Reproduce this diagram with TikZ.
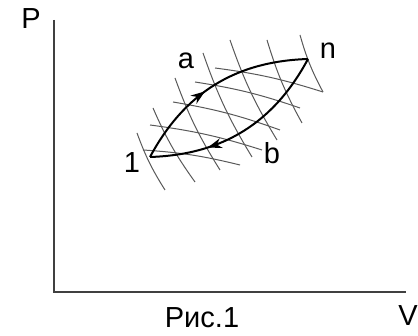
\documentclass[tikz,border=0pt]{standalone}
\usepackage{fontspec}
\setmainfont{Liberation Sans}
\usetikzlibrary{decorations.markings,arrows.meta}
\begin{document}
\begin{tikzpicture}[x=1pt,y=1pt,
  lbl/.style={inner sep=0pt,font=\fontsize{29}{34}\selectfont},
  axis/.style={line width=1.5pt,draw=black!75},
  hatch/.style={line width=1pt,draw=black!65},
  proc/.style={line width=2pt,draw=black},
  arrowat/.style={postaction={decorate},decoration={markings,mark=at position #1 with {\arrow{Stealth[length=14pt,width=10pt]}}}}]
\useasboundingbox (0,0) rectangle (418,336);
% axes
\coordinate (O) at (54,44);
\coordinate (Ytop) at (54,316);
\coordinate (Xend) at (406,44);
\draw[axis] (Ytop) -- (O) -- (Xend);
\node[lbl] (P) at (31,317) {P};
\node[lbl] (V) at (408,20) {V};
\node[lbl] (cap) at (202,18) {Рис.1};
% hatching (steep family)
\draw[hatch] (137,203) to[bend right=6] (165,146);
\draw[hatch] (153,228) to[bend right=6] (195,154);
\draw[hatch] (175,258) to[bend right=6] (220,166);
\draw[hatch] (203,283) to[bend right=6] (252,179);
\draw[hatch] (230,296) to[bend right=6] (277,196);
\draw[hatch] (267,296) to[bend right=6] (302,213);
\draw[hatch] (300,301) to[bend right=6] (323,244);
% hatching (shallow family)
\draw[hatch] (143,186) to[bend left=5] (240,171);
\draw[hatch] (150,211) to[bend left=5] (262,186);
\draw[hatch] (173,234) to[bend left=5] (280,206);
\draw[hatch] (195,254) to[bend left=5] (300,228);
\draw[hatch] (215,268) to[bend left=5] (323,244);
% states
\coordinate (s1) at (150,179);
\coordinate (sn) at (308,277);
\draw[proc,arrowat=0.44] (s1) to[bend left=30] (sn);
\draw[proc,arrowat=0.7] (sn) to[bend left=30] (s1);
\node[lbl] (la) at (186,275) {a};
\node[lbl] (lb) at (272,183) {b};
\node[lbl] (ln) at (328,285) {n};
\node[lbl] (l1) at (132,173) {1};
\end{tikzpicture}
\end{document}
